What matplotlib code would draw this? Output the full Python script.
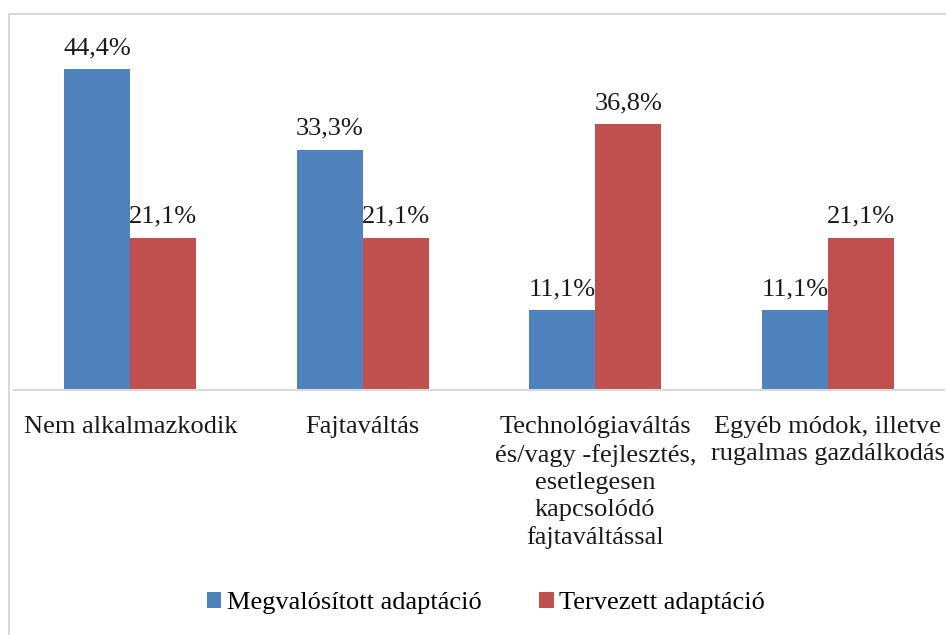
import matplotlib
matplotlib.use("Agg")
import matplotlib.pyplot as plt
from matplotlib.patches import Rectangle
import numpy as np

categories = [
    "Nem alkalmazkodik",
    "Fajtaváltás",
    "Technológiaváltás\nés/vagy -fejlesztés,\nesetlegesen\nkapcsolódó\nfajtaváltással",
    "Egyéb módok, illetve\nrugalmas gazdálkodás",
]
megvalositott = [44.4, 33.3, 11.1, 11.1]
tervezett = [21.1, 21.1, 36.8, 21.1]
series_names = ["Megvalósított adaptáció", "Tervezett adaptáció"]

BLUE = "#4F81BD"
RED = "#C0504D"
GRID = "#D9D9D9"
FS = 19

plt.rcParams["font.family"] = ["Liberation Serif", "DejaVu Serif"]

W, H = 946, 635
fig = plt.figure(figsize=(W / 100, H / 100), dpi=100)

# outer chart frame
fig.patches.append(Rectangle((9 / W, -0.01), 1.0, 1 - 14 / H + 0.01,
                             transform=fig.transFigure, fill=False,
                             edgecolor=GRID, linewidth=1.5))

ax = fig.add_axes([14 / W, 1 - 390 / H, (944 - 14) / W, (390 - 29) / H])

x = np.arange(len(categories))
bw = 0.284
b1 = ax.bar(x - bw / 2, megvalositott, bw, color=BLUE, label=series_names[0])
b2 = ax.bar(x + bw / 2, tervezett, bw, color=RED, label=series_names[1])

for bars, vals in ((b1, megvalositott), (b2, tervezett)):
    for rect, v in zip(bars, vals):
        ax.annotate(f"{v:.1f}%".replace(".", ","),
                    (rect.get_x() + rect.get_width() / 2, v),
                    xytext=(0, 7), textcoords="offset points",
                    ha="center", va="bottom", fontsize=FS, color="#1a1a1a")

ax.set_xlim(-0.5, len(categories) - 0.5)
ax.set_ylim(0, 50)
ax.set_yticks([])
for s in ("top", "right", "left"):
    ax.spines[s].set_visible(False)
ax.spines["bottom"].set_color(GRID)
ax.spines["bottom"].set_linewidth(1.5)
ax.set_xticks(x)
ax.set_xticklabels(categories, fontsize=FS, linespacing=1.3, color="#1a1a1a")
ax.tick_params(axis="x", length=0, pad=19)

leg = fig.legend(handles=[b1, b2], labels=series_names,
                 loc="center", bbox_to_anchor=(486 / W, 1 - 603 / H),
                 ncol=2, frameon=False, fontsize=FS,
                 handlelength=0.55, handleheight=0.55, handletextpad=0.2,
                 columnspacing=2.2)

fig.savefig("out.png", dpi=100)
